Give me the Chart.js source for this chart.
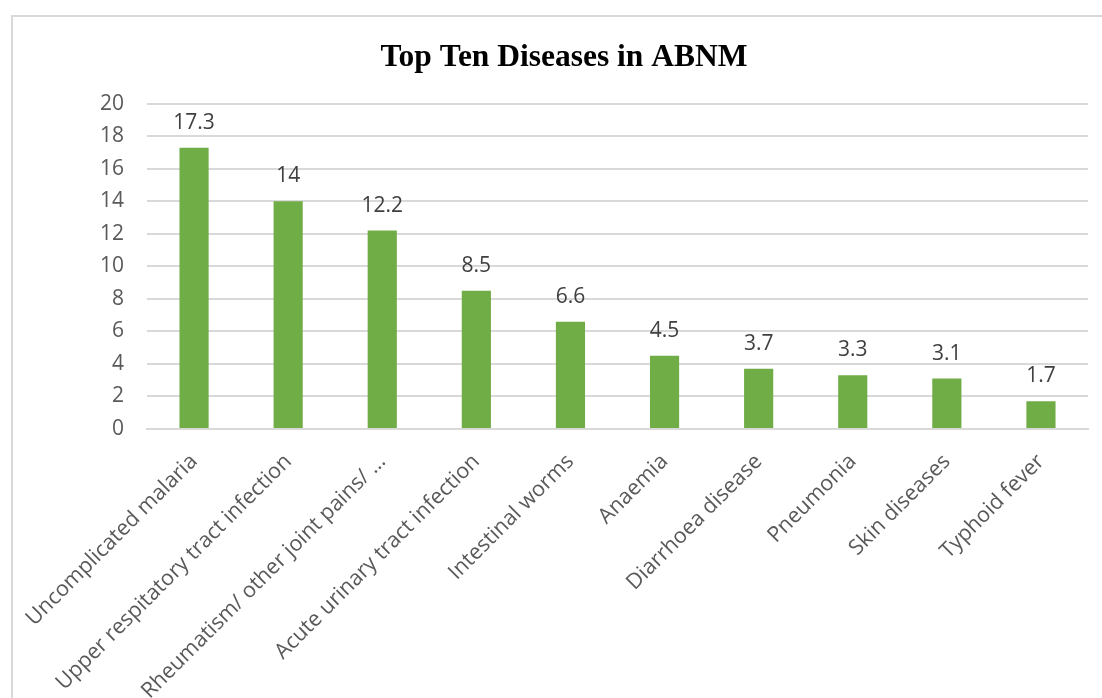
<!DOCTYPE html>
<html>
<head>
<meta charset="utf-8">
<script src="https://cdn.jsdelivr.net/npm/chart.js@4"></script>
<style>
  html, body { margin: 0; padding: 0; background: #fff; overflow: hidden; }
  #frame { position: absolute; left: 11px; top: 15px; width: 1200px; height: 800px; border: 2px solid #d9d9d9; }
  #wrap { position: absolute; left: 0; top: 0; width: 1102px; height: 698px; }
</style>
</head>
<body>
<div id="frame"></div>
<div id="wrap"><canvas id="barChart"></canvas></div>
<script>
// ===== DATA =====
const diseases = [
  'Uncomplicated malaria',
  'Upper respitatory tract infection',
  'Rheumatism/ other joint pains/ …',
  'Acute urinary tract infection',
  'Intestinal worms',
  'Anaemia',
  'Diarrhoea disease',
  'Pneumonia',
  'Skin diseases',
  'Typhoid fever'
];
const percents = [17.3, 14, 12.2, 8.5, 6.6, 4.5, 3.7, 3.3, 3.1, 1.7];
const yTicks = [0, 2, 4, 6, 8, 10, 12, 14, 16, 18, 20];

const labelFont = "'Open Sans', sans-serif";
const textGray = '#595959';
const gridColor = '#d9d9d9';

// ===== VALUE LABELS ABOVE BARS =====
const valueLabels = {
  id: 'valueLabels',
  afterDatasetsDraw(chart) {
    const { ctx } = chart;
    const meta = chart.getDatasetMeta(0);
    ctx.save();
    ctx.font = `21px ${labelFont}`;
    ctx.fillStyle = '#404040';
    ctx.textAlign = 'center';
    ctx.textBaseline = 'middle';
    meta.data.forEach((bar, i) => {
      ctx.fillText(String(percents[i]), bar.x, bar.y - 25);
    });
    ctx.restore();
  }
};

new Chart(document.getElementById('barChart').getContext('2d'), {
  type: 'bar',
  data: {
    labels: diseases,
    datasets: [{
      data: percents,
      backgroundColor: '#70ad47',
      categoryPercentage: 1,
      barPercentage: 0.31,
    }]
  },
  options: {
    responsive: true,
    maintainAspectRatio: false,
    animation: false,
    layout: { padding: { left: 40, right: 14, top: 0, bottom: -26 } },
    plugins: {
      legend: { display: false },
      tooltip: { enabled: false },
      title: {
        display: true,
        text: 'Top Ten Diseases in ABNM',
        color: '#000',
        font: { family: "'Liberation Serif', 'Times New Roman', serif", size: 31.5, weight: 'bold' },
        padding: { top: 39, bottom: 27 }
      }
    },
    scales: {
      x: {
        grid: { display: false, drawTicks: false },
        border: { color: gridColor, width: 2 },
        afterFit: s => { s.paddingLeft = 0; s.paddingRight = 0; },
        ticks: {
          color: textGray,
          font: { family: labelFont, size: 21.5 },
          maxRotation: 45,
          minRotation: 45,
          padding: 20,
          autoSkip: false
        }
      },
      y: {
        min: 0,
        max: 20,
        afterBuildTicks: axis => { axis.ticks = yTicks.map(v => ({ value: v })); },
        afterFit: s => { s.width = 107; },
        grid: { color: gridColor, lineWidth: 2, drawTicks: false },
        border: { display: false },
        ticks: {
          color: textGray,
          font: { family: labelFont, size: 21 },
          padding: 23
        }
      }
    }
  },
  plugins: [valueLabels]
});
</script>
</body>
</html>
